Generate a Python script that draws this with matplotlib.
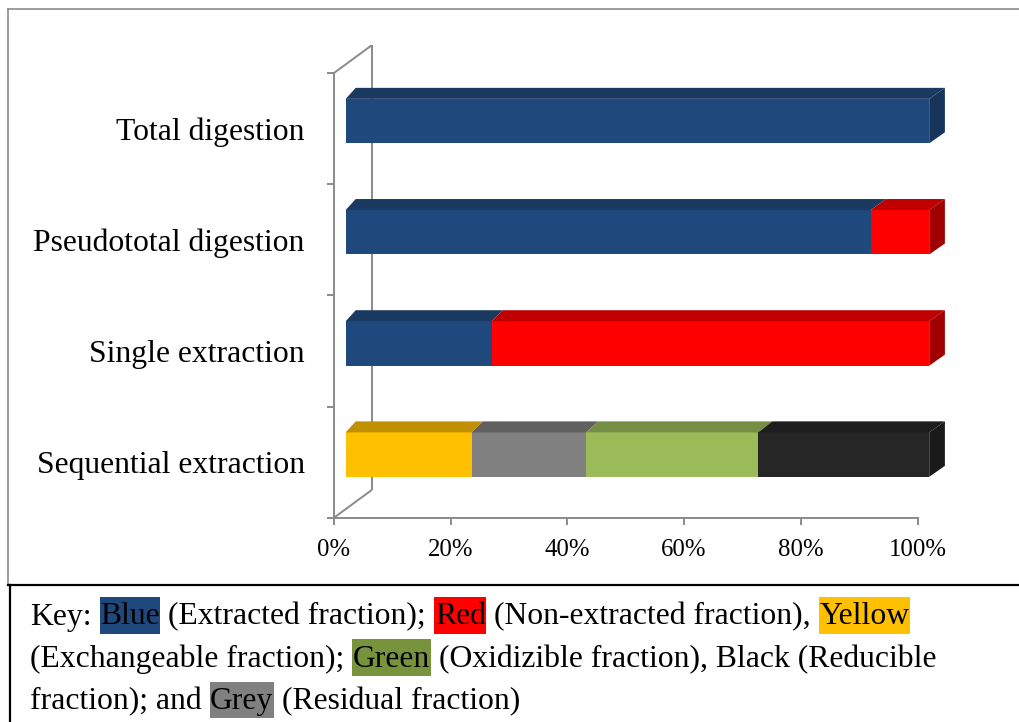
import matplotlib
matplotlib.use("Agg")
import matplotlib.pyplot as plt
import matplotlib.transforms as mtransforms
from matplotlib.patches import Polygon, Rectangle
import numpy as np

plt.rcParams['font.family'] = ['Liberation Serif', 'DejaVu Serif']

# ---------------------------------------------------------------- data
categories = ["Sequential extraction", "Single extraction",
              "Pseudototal digestion", "Total digestion"]

# share of the metal (%) in each fraction, per method (same order as categories)
extracted     = [0.0, 25.0, 90.0, 100.0]
non_extracted = [0.0, 75.0, 10.0, 0.0]
exchangeable  = [21.6, 0.0, 0.0, 0.0]
residual      = [19.6, 0.0, 0.0, 0.0]
oxidizable    = [29.5, 0.0, 0.0, 0.0]
reducible     = [29.3, 0.0, 0.0, 0.0]

x_ticks = [0, 20, 40, 60, 80, 100]
x_tick_labels = ["0%", "20%", "40%", "60%", "80%", "100%"]

# series in stacking order: (values, front colour, top colour, side colour)
series = [
    (extracted,     "#1F497D", "#1B3A62", "#17355B"),
    (non_extracted, "#FF0000", "#C00000", "#A00000"),
    (exchangeable,  "#FFC000", "#C09000", "#A07800"),
    (residual,      "#808080", "#606060", "#505050"),
    (oxidizable,    "#9BBB59", "#768D44", "#627538"),
    (reducible,     "#262626", "#1E1E1E", "#1A1A1A"),
]

AXIS_GREY = "#8A8A8A"

# ---------------------------------------------------------------- figure
W, H = 1019, 722
fig = plt.figure(figsize=(W / 100, H / 100), dpi=100)

# front plane of the plotting box, in figure pixels from the top-left
PL, PR, PT, PB = 334.0, 917.5, 73.0, 517.7
ax = fig.add_axes([PL / W, 1 - PB / H, (PR - PL) / W, (PB - PT) / H])
ax.set_xlim(0, 100)
ax.set_ylim(-0.5, 3.5)
ax.patch.set_visible(False)

# data units per pixel
sx = 100.0 / (PR - PL)
sy = 4.0 / (PB - PT)

for side in ("top", "right"):
    ax.spines[side].set_visible(False)
for side in ("left", "bottom"):
    ax.spines[side].set_color(AXIS_GREY)
    ax.spines[side].set_linewidth(1.4)

ax.set_xticks(x_ticks, x_tick_labels, fontsize=17.8)
ax.tick_params(axis="x", direction="out", length=5, width=1.4,
               color=AXIS_GREY, pad=10.5)
ax.set_yticks(range(len(categories)), categories, fontsize=22.8)
ax.set_yticks(np.arange(-0.5, len(categories), 1.0), minor=True)
ax.tick_params(axis="y", which="major", length=0, pad=21)
ax.tick_params(axis="y", which="minor", direction="out", length=5,
               width=1.4, color=AXIS_GREY)

# back wall and its joins to the front plane
WALL_DX, WALL_DY = 37.7, 27.7
wx, wy = WALL_DX * sx, WALL_DY * sy
wall_kw = dict(color=AXIS_GREY, lw=1.4, clip_on=False, zorder=1,
               solid_capstyle="butt")
ax.plot([wx, wx], [-0.5 + wy, 3.5 + wy], **wall_kw)
ax.plot([0, wx], [3.5, 3.5 + wy], **wall_kw)
ax.plot([0, wx], [-0.5, -0.5 + wy], **wall_kw)

# bars sit a little behind the front plane
bar_tr = ax.transData + mtransforms.ScaledTranslation(
    11.7 / 100, 7.5 / 100, fig.dpi_scale_trans)
BAR_H = 0.4
DEPTH_DY = 11.0


def depth_dx(x):
    # receding edge grows slightly towards the right (perspective)
    return 10.0 + 5.7 * x / 100.0


rows = np.arange(len(categories))
left = np.zeros(len(categories))
last_end = np.zeros(len(categories))
last_side = [None] * len(categories)
for values, front, top, side in series:
    vals = np.asarray(values)
    ax.barh(rows, vals, left=left, height=BAR_H, color=front,
            transform=bar_tr, clip_on=False, zorder=3, linewidth=0)
    for i, v in enumerate(vals):
        if v <= 0:
            continue
        a, b = left[i], left[i] + v
        yt = rows[i] + BAR_H / 2
        top_face = [(a, yt), (b, yt),
                    (b + depth_dx(b) * sx, yt + DEPTH_DY * sy),
                    (a + depth_dx(a) * sx, yt + DEPTH_DY * sy)]
        ax.add_patch(Polygon(top_face, closed=True, facecolor=top,
                             edgecolor="none", transform=bar_tr,
                             clip_on=False, zorder=3))
        last_end[i] = b
        last_side[i] = side
    left = left + vals

# right-hand end faces
for i in rows:
    e = last_end[i]
    yt, yb = rows[i] + BAR_H / 2, rows[i] - BAR_H / 2
    ddx, ddy = depth_dx(e) * sx, DEPTH_DY * sy
    face = [(e, yt), (e + ddx, yt + ddy), (e + ddx, yb + ddy), (e, yb)]
    ax.add_patch(Polygon(face, closed=True, facecolor=last_side[i],
                         edgecolor="none", transform=bar_tr,
                         clip_on=False, zorder=3))

# ---------------------------------------------------------------- frame + key
over = fig.add_axes([0, 0, 1, 1])
over.set_xlim(0, W)
over.set_ylim(H, 0)
over.axis("off")
over.patch.set_visible(False)

over.plot([8.3, W], [9.3, 9.3], color="#8C8C8C", lw=1.2)
over.plot([8.3, 8.3], [9.3, 584.5], color="#8C8C8C", lw=1.2)
over.plot([8.3, W], [585.0, 585.0], color="black", lw=1.6)
over.plot([10.0, 10.0], [585.0, H], color="black", lw=1.6)

KEY_FS = 22.8
SPACE = 8.6
key_lines = [
    [("Key:", None), ("Blue", "#1F497D"), ("(Extracted fraction);", None),
     ("Red", "#FF0000"), ("(Non-extracted fraction),", None),
     ("Yellow", "#FFC000")],
    [("(Exchangeable fraction);", None), ("Green", "#77933C"),
     ("(Oxidizible fraction), Black (Reducible", None)],
    [("fraction); and", None), ("Grey", "#808080"),
     ("(Residual fraction)", None)],
]
baselines = [624.5, 666.8, 709.1]

renderer = fig.canvas.get_renderer()
for line, base in zip(key_lines, baselines):
    x = 30.0
    for text, hl in line:
        t = over.text(x, base, text, fontsize=KEY_FS, va="baseline",
                      ha="left", color="black", zorder=5)
        bb = t.get_window_extent(renderer)
        if hl is not None:
            over.add_patch(Rectangle((bb.x0 - 0.6, base - 27.5),
                                     bb.width + 1.2, 36.7,
                                     facecolor=hl, edgecolor="none",
                                     zorder=4))
        x = bb.x1 + SPACE

fig.savefig("out.png", dpi=100)
